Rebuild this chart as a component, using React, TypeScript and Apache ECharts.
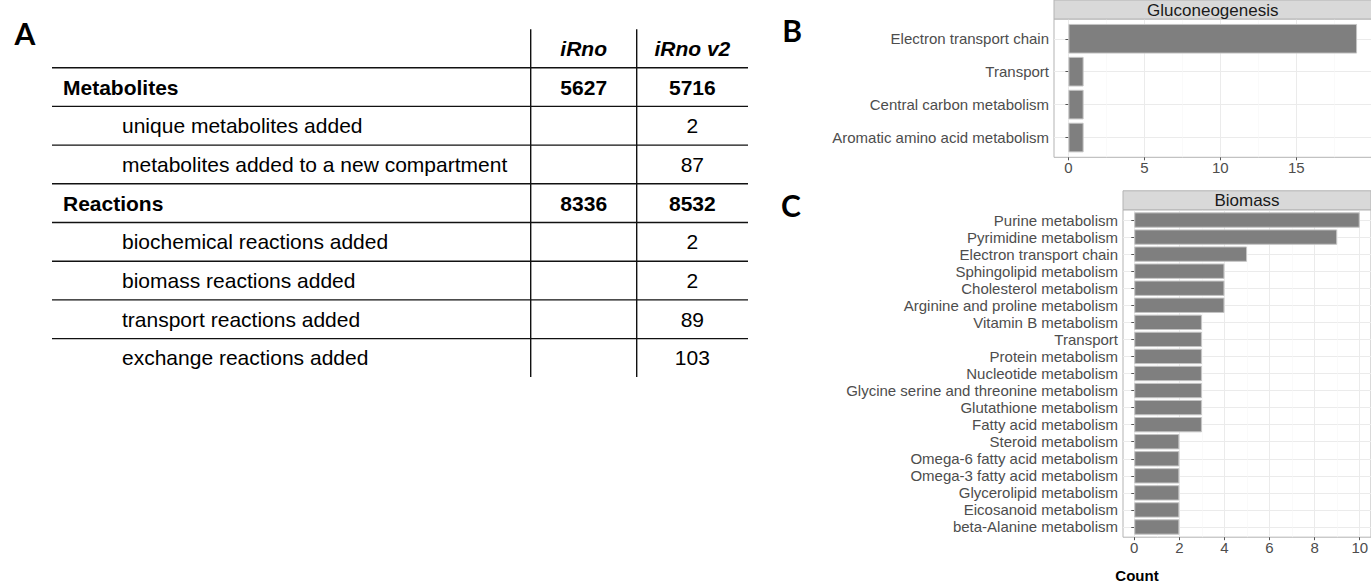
import React, { useEffect, useRef } from 'react';
import * as echarts from 'echarts';

const FONT = '"Liberation Sans", Arial, Helvetica, sans-serif';
const TAG_FONT = 'Lato, "Open Sans", sans-serif';

// ---- Panel A: model comparison table ----
const tableColumns = ['iRno', 'iRno v2'];
const tableRowLabels = [
  'Metabolites',
  'unique metabolites added',
  'metabolites added to a new compartment',
  'Reactions',
  'biochemical reactions added',
  'biomass reactions added',
  'transport reactions added',
  'exchange reactions added',
];
const tableRowIsGroup = [true, false, false, true, false, false, false, false];
const iRnoCounts = ['5627', '', '', '8336', '', '', '', ''];
const iRnoV2Counts = ['5716', '2', '87', '8532', '2', '2', '89', '103'];

// ---- Panel B: Gluconeogenesis ----
const glucoTitle = 'Gluconeogenesis';
const glucoCategories = [
  'Electron transport chain',
  'Transport',
  'Central carbon metabolism',
  'Aromatic amino acid metabolism',
];
const glucoCounts = [19, 1, 1, 1];
const glucoTicks = [0, 5, 10, 15];
const glucoMinorTicks = [2.5, 7.5, 12.5, 17.5];

// ---- Panel C: Biomass ----
const biomassTitle = 'Biomass';
const biomassCategories = [
  'Purine metabolism',
  'Pyrimidine metabolism',
  'Electron transport chain',
  'Sphingolipid metabolism',
  'Cholesterol metabolism',
  'Arginine and proline metabolism',
  'Vitamin B metabolism',
  'Transport',
  'Protein metabolism',
  'Nucleotide metabolism',
  'Glycine serine and threonine metabolism',
  'Glutathione metabolism',
  'Fatty acid metabolism',
  'Steroid metabolism',
  'Omega-6 fatty acid metabolism',
  'Omega-3 fatty acid metabolism',
  'Glycerolipid metabolism',
  'Eicosanoid metabolism',
  'beta-Alanine metabolism',
];
const biomassCounts = [10, 9, 5, 4, 4, 4, 3, 3, 3, 3, 3, 3, 3, 2, 2, 2, 2, 2, 2];
const biomassTicks = [0, 2, 4, 6, 8, 10];
const biomassMinorTicks = [1, 3, 5, 7, 9];

const xAxisTitle = 'Count';

// ggplot-style scale expansion
const CONT_EXPAND = 0.05;
const DISCRETE_PAD = 0.6;

type Box = { left: number; top: number; width: number; height: number };

const GRID_MAJOR = '#ebebeb';
const GRID_MINOR = '#f6f6f6';
const PANEL_BORDER = '#b3b3b3';
const STRIP_FILL = '#d9d9d9';
const AXIS_TEXT = '#4d4d4d';
const BAR_FILL = '#7f7f7f';
const STRIP_H = 19;

function facet(
  box: Box,
  title: string,
  categories: string[],
  counts: number[],
  ticks: number[],
  minorTicks: number[],
  gridBase: number,
  xBase: number,
  yBase: number
) {
  const maxCount = Math.max(...counts);
  const xMin = -CONT_EXPAND * maxCount;
  const xMax = maxCount * (1 + CONT_EXPAND);
  const n = categories.length;
  const unit = box.height / (n - 1 + 2 * DISCRETE_PAD);
  const inset = (DISCRETE_PAD - 0.5) * unit;
  const positions = categories.map((_, i) => i + 1);

  const grids = [
    {
      left: box.left,
      top: box.top,
      width: box.width,
      height: box.height,
      show: true,
      backgroundColor: '#ffffff',
      borderColor: PANEL_BORDER,
      borderWidth: 1,
      containLabel: false,
      outerBoundsMode: 'none',
    },
    {
      left: box.left,
      top: box.top + inset,
      width: box.width,
      height: box.height - 2 * inset,
      show: false,
      containLabel: false,
      outerBoundsMode: 'none',
    },
  ];

  const xAxes = [
    {
      type: 'value',
      gridIndex: gridBase,
      min: xMin,
      max: xMax,
      axisLine: { show: false },
      axisTick: { show: true, length: 3, customValues: ticks, lineStyle: { color: '#555555', width: 1 } },
      axisLabel: {
        show: true,
        customValues: ticks,
        fontSize: 15,
        fontFamily: FONT,
        color: AXIS_TEXT,
        margin: 3,
      },
      splitLine: { show: true, lineStyle: { color: GRID_MAJOR, width: 1 } },
    },
    {
      type: 'value',
      gridIndex: gridBase,
      min: xMin,
      max: xMax,
      axisLine: { show: false },
      axisTick: { show: false, customValues: minorTicks },
      axisLabel: { show: false, customValues: minorTicks },
      splitLine: { show: true, lineStyle: { color: GRID_MINOR, width: 0.6 } },
    },
    {
      type: 'value',
      gridIndex: gridBase + 1,
      min: xMin,
      max: xMax,
      show: false,
      splitLine: { show: false },
    },
  ];

  const yAxes = [
    {
      type: 'value',
      gridIndex: gridBase,
      inverse: true,
      min: 1 - DISCRETE_PAD,
      max: n + DISCRETE_PAD,
      axisLine: { show: false },
      axisTick: { show: true, length: 3, customValues: positions, lineStyle: { color: '#555555', width: 1 } },
      axisLabel: { show: false, customValues: positions },
      splitLine: { show: true, lineStyle: { color: GRID_MAJOR, width: 1 } },
    },
    {
      type: 'category',
      gridIndex: gridBase + 1,
      inverse: true,
      data: categories,
      axisLine: { show: false },
      axisTick: { show: false },
      splitLine: { show: false },
      axisLabel: {
        show: true,
        interval: 0,
        hideOverlap: false,
        fontSize: 15,
        fontFamily: FONT,
        color: AXIS_TEXT,
        margin: 5,
      },
    },
  ];

  const series = [
    {
      type: 'bar',
      xAxisIndex: xBase + 2,
      yAxisIndex: yBase + 1,
      data: counts,
      barCategoryGap: '10%',
      z: 3,
      itemStyle: { color: BAR_FILL, borderColor: '#c4c4c4', borderWidth: 1 },
      emphasis: { disabled: true },
    },
  ];

  const strip = [
    {
      type: 'rect',
      shape: { x: box.left, y: box.top - STRIP_H, width: box.width, height: STRIP_H },
      style: { fill: STRIP_FILL, stroke: PANEL_BORDER, lineWidth: 1 },
      z: 10,
    },
    {
      type: 'text',
      x: box.left + box.width / 2,
      y: box.top - STRIP_H / 2 + 0.5,
      style: {
        text: title,
        fill: '#1a1a1a',
        fontSize: 17,
        fontFamily: FONT,
        align: 'center',
        verticalAlign: 'middle',
        textAlign: 'center',
        textVerticalAlign: 'middle',
      },
      z: 11,
    },
  ];

  return { grids, xAxes, yAxes, series, strip };
}

function tableGraphics() {
  const left = 52;
  const right = 748;
  const firstLine = 67.7;
  const rowH = 38.7;
  const colLines = [530.7, 636.7];
  const vTop = 29.3;
  const vBottom = 377;
  const groupX = 63;
  const itemX = 122;
  const headerY = 48.5;
  const colCenters = [(colLines[0] + colLines[1]) / 2, (colLines[1] + right) / 2];
  const els: any[] = [];
  const lineStyle = { stroke: '#111111', lineWidth: 1.4 };

  for (let k = 0; k < tableRowLabels.length; k++) {
    const y = firstLine + rowH * k;
    els.push({ type: 'line', shape: { x1: left, y1: y, x2: right, y2: y }, style: lineStyle });
  }
  colLines.forEach((x) => {
    els.push({ type: 'line', shape: { x1: x, y1: vTop, x2: x, y2: vBottom }, style: lineStyle });
  });

  const txt = (text: string, x: number, y: number, align: string, weight: string, italic = false) => ({
    type: 'text',
    x,
    y,
    style: {
      text,
      fill: '#000000',
      fontSize: 21,
      fontFamily: FONT,
      fontWeight: weight,
      fontStyle: italic ? 'italic' : 'normal',
      align,
      verticalAlign: 'middle',
      textAlign: align,
      textVerticalAlign: 'middle',
    },
  });

  tableColumns.forEach((c, j) => els.push(txt(c, colCenters[j], headerY, 'center', 'bold', true)));

  tableRowLabels.forEach((label, i) => {
    const y = firstLine + rowH * (i + 0.5);
    const bold = tableRowIsGroup[i];
    els.push(txt(label, bold ? groupX : itemX, y, 'left', bold ? 'bold' : 'normal'));
    if (iRnoCounts[i]) els.push(txt(iRnoCounts[i], colCenters[0], y, 'center', bold ? 'bold' : 'normal'));
    if (iRnoV2Counts[i]) els.push(txt(iRnoV2Counts[i], colCenters[1], y, 'center', bold ? 'bold' : 'normal'));
  });
  return els;
}

function panelTag(text: string, x: number, y: number) {
  return {
    type: 'text',
    x,
    y,
    style: {
      text,
      fill: '#000000',
      fontSize: 30,
      fontWeight: 'bold',
      fontFamily: TAG_FONT,
      align: 'center',
      verticalAlign: 'middle',
      textAlign: 'center',
      textVerticalAlign: 'middle',
    },
  };
}

function buildOption() {
  const b = facet(
    { left: 1054, top: 19, width: 317.5, height: 138.3 },
    glucoTitle,
    glucoCategories,
    glucoCounts,
    glucoTicks,
    glucoMinorTicks,
    0,
    0,
    0
  );
  const c = facet(
    { left: 1123, top: 209.8, width: 248, height: 327.4 },
    biomassTitle,
    biomassCategories,
    biomassCounts,
    biomassTicks,
    biomassMinorTicks,
    2,
    3,
    2
  );

  return {
    animation: false,
    backgroundColor: '#ffffff',
    textStyle: { fontFamily: FONT },
    grid: [...b.grids, ...c.grids],
    xAxis: [...b.xAxes, ...c.xAxes],
    yAxis: [...b.yAxes, ...c.yAxes],
    series: [...b.series, ...c.series],
    graphic: {
      elements: [
        ...tableGraphics(),
        ...b.strip,
        ...c.strip,
        panelTag('A', 25, 33),
        panelTag('B', 792, 30),
        panelTag('C', 791, 205),
        {
          type: 'text',
          x: 1137,
          y: 575,
          style: {
            text: xAxisTitle,
            fill: '#000000',
            fontSize: 15,
            fontWeight: 'bold',
            fontFamily: FONT,
            align: 'center',
            verticalAlign: 'middle',
            textAlign: 'center',
            textVerticalAlign: 'middle',
          },
        },
      ],
    },
  };
}

export default function App() {
  const ref = useRef<HTMLDivElement>(null);
  useEffect(() => {
    document.body.style.margin = '0';
    const chart = echarts.init(ref.current!, undefined, { renderer: 'svg' });
    chart.setOption(buildOption() as any);
    return () => chart.dispose();
  }, []);
  return <div ref={ref} style={{ width: 1371, height: 583 }} />;
}
